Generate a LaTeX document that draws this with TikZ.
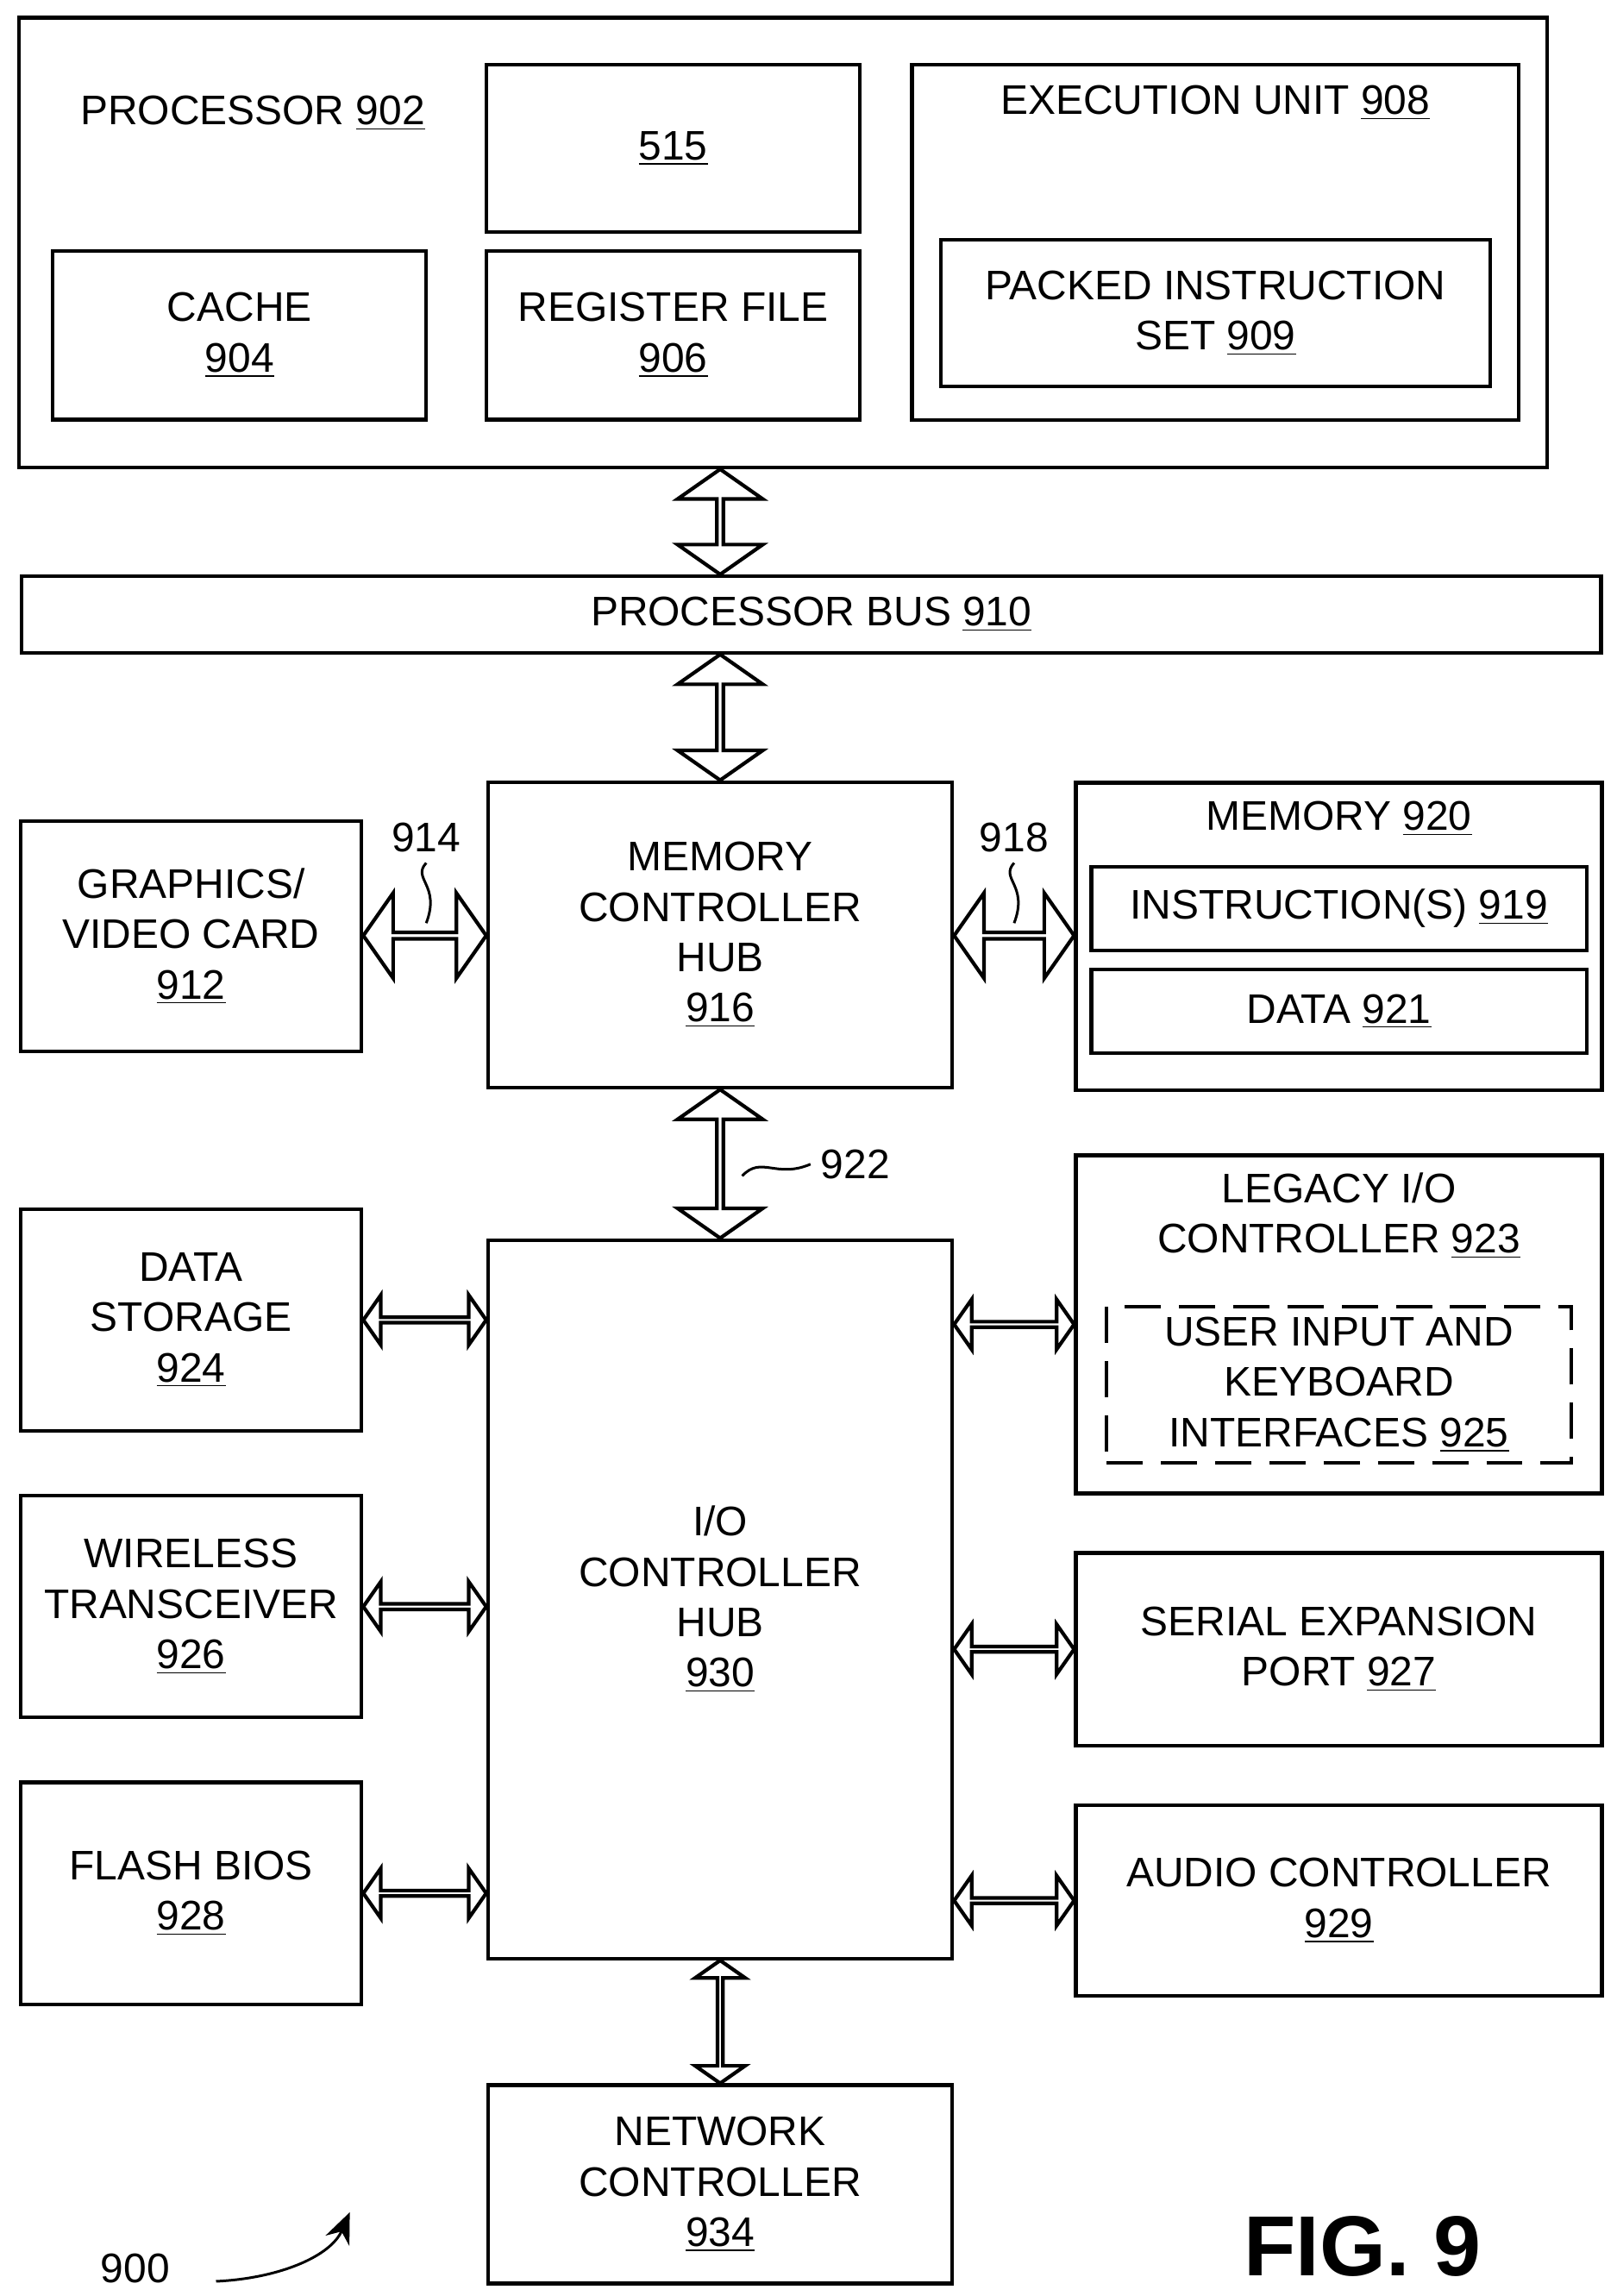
\documentclass[tikz,border=0pt]{standalone}
\usepackage{fontspec}
\setmainfont{Liberation Sans}
\usetikzlibrary{shapes.arrows,calc,arrows.meta}
\newcommand{\ul}[1]{\underline{#1}}
\begin{document}
\begin{tikzpicture}[x=0.02cm,y=-0.02cm,line width=1.4pt,
    font=\fontsize{16}{19.5}\selectfont,
    blk/.style={draw, rectangle, align=center, inner sep=0pt},
    big/.style={draw, double arrow, fill=white, inner sep=0pt, minimum width=1.16cm,
        double arrow head extend=0.3cm, double arrow tip angle=110},
    small/.style={draw, double arrow, fill=white, inner sep=0pt, minimum width=0.68cm,
        double arrow head extend=0.2cm, double arrow tip angle=110}]
    \useasboundingbox (0,0) rectangle (1100,1562);
    % processor
    \node[blk, minimum width=20.8cm, minimum height=6.12cm] (proc) at (533,165) {};
    \node (proct) at (172,77) {PROCESSOR \ul{902}};
    \node[blk, minimum width=5.08cm, minimum height=2.28cm] (b515) at (458,101) {\ul{515}};
    \node[blk, minimum width=5.08cm, minimum height=2.3cm] (cache) at (163,228) {CACHE\\\ul{904}};
    \node[blk, minimum width=5.08cm, minimum height=2.3cm] (reg) at (458,228) {REGISTER FILE\\\ul{906}};
    \node[blk, minimum width=8.26cm, minimum height=4.84cm] (exec) at (827,165) {};
    \node (exect) at (827,70) {EXECUTION UNIT \ul{908}};
    \node[blk, minimum width=7.48cm, minimum height=2cm] (pack) at (827,213) {PACKED INSTRUCTION\\SET \ul{909}};
    % bus and hubs
    \node[blk, minimum width=21.5cm, minimum height=1.04cm] (bus) at (552,418) {PROCESSOR BUS \ul{910}};
    \node[blk, minimum width=6.32cm, minimum height=4.16cm] (mch) at (490,636) {MEMORY\\CONTROLLER\\HUB\\\ul{916}};
    \node[blk, minimum width=4.64cm, minimum height=3.14cm] (gfx) at (130,637) {GRAPHICS/\\VIDEO CARD\\\ul{912}};
    \node[blk, minimum width=7.16cm, minimum height=4.18cm] (mem) at (911,637) {};
    \node (memt) at (911,557) {MEMORY \ul{920}};
    \node[blk, minimum width=6.74cm, minimum height=1.14cm] (instr) at (911,618) {INSTRUCTION(S) \ul{919}};
    \node[blk, minimum width=6.74cm, minimum height=1.14cm] (data) at (911,688) {DATA \ul{921}};
    \node[blk, minimum width=6.32cm, minimum height=9.78cm] (ich) at (490,1088) {I/O\\CONTROLLER\\HUB\\\ul{930}};
    % left devices
    \node[blk, minimum width=4.64cm, minimum height=3.02cm] (ds) at (130,898) {DATA\\STORAGE\\\ul{924}};
    \node[blk, minimum width=4.64cm, minimum height=3.02cm] (wl) at (130,1093) {WIRELESS\\TRANSCEIVER\\\ul{926}};
    \node[blk, minimum width=4.64cm, minimum height=3.02cm] (fl) at (130,1288) {FLASH BIOS\\\ul{928}};
    % right devices
    \node[blk, minimum width=7.16cm, minimum height=4.6cm] (leg) at (911,901) {};
    \node[align=center] (legt) at (911,827) {LEGACY I/O\\CONTROLLER \ul{923}};
    \node[blk, dashed, dash pattern=on 14pt off 7pt, minimum width=6.32cm, minimum height=2.12cm] (ui) at (911,942) {USER INPUT AND\\KEYBOARD\\INTERFACES \ul{925}};
    \node[blk, minimum width=7.16cm, minimum height=2.62cm] (ser) at (911,1122) {SERIAL EXPANSION\\PORT \ul{927}};
    \node[blk, minimum width=7.16cm, minimum height=2.6cm] (aud) at (911,1293) {AUDIO CONTROLLER\\\ul{929}};
    \node[blk, minimum width=6.32cm, minimum height=2.7cm] (net) at (490,1486) {NETWORK\\CONTROLLER\\\ul{934}};
    % block arrows
    \path let \p1=(mch.north |- proc.south), \p2=(mch.north |- bus.north), \n1={veclen(\x2-\x1,\y2-\y1)} in
        node[big, rotate=90, minimum height=\n1] (a1) at ($(\p1)!0.5!(\p2)$) {};
    \path let \p1=(mch.north |- bus.south), \p2=(mch.north), \n1={veclen(\x2-\x1,\y2-\y1)} in
        node[big, rotate=90, minimum height=\n1] (a2) at ($(\p1)!0.5!(\p2)$) {};
    \path let \p1=(mch.south), \p2=(ich.north), \n1={veclen(\x2-\x1,\y2-\y1)} in
        node[big, rotate=90, minimum height=\n1] (a3) at ($(\p1)!0.5!(\p2)$) {};
    \path let \p1=(gfx.east), \p2=(mch.west), \n1={veclen(\x2-\x1,\y2-\y1)} in
        node[big, minimum height=\n1] (a4) at ($(\p1)!0.5!(\p2)$) {};
    \path let \p1=(mch.east), \p2=(mem.west), \n1={veclen(\x2-\x1,\y2-\y1)} in
        node[big, minimum height=\n1] (a5) at ($(\p1)!0.5!(\p2)$) {};
    \foreach \d in {ds,wl,fl}
        \path let \p1=(\d.east), \p2=(ich.west |- \d.east), \n1={veclen(\x2-\x1,\y2-\y1)} in
            node[small, minimum height=\n1] at ($(\p1)!0.5!(\p2)$) {};
    \foreach \d in {leg,ser,aud}
        \path let \p1=(ich.east |- \d.west), \p2=(\d.west), \n1={veclen(\x2-\x1,\y2-\y1)} in
            node[small, minimum height=\n1] at ($(\p1)!0.5!(\p2)$) {};
    \path let \p1=(ich.south), \p2=(net.north), \n1={veclen(\x2-\x1,\y2-\y1)} in
        node[small, rotate=90, minimum height=\n1] (a6) at ($(\p1)!0.5!(\p2)$) {};
    % reference labels
    \node (l914) at (290,570) {914};
    \node (l918) at (690,570) {918};
    \node (l922) at (582,792) {922};
    \draw[line width=1pt] (l914.south) .. controls (280,598) and (300,602) .. (290,628);
    \draw[line width=1pt] (l918.south) .. controls (680,598) and (700,602) .. (690,628);
    \draw[line width=1pt] (505,800) .. controls (518,786) and (528,802) .. (l922.west);
    \node (l900) at (92,1543) {900};
    \coordinate (c900) at (238,1505);
    \draw[line width=1pt, -{Stealth[length=12pt,width=10pt]}] (147,1552) .. controls (190,1550) and (225,1535) .. (c900);
    \node[font=\fontsize{33}{36}\selectfont\bfseries] (fig) at (927,1528) {FIG. 9};
\end{tikzpicture}
\end{document}
